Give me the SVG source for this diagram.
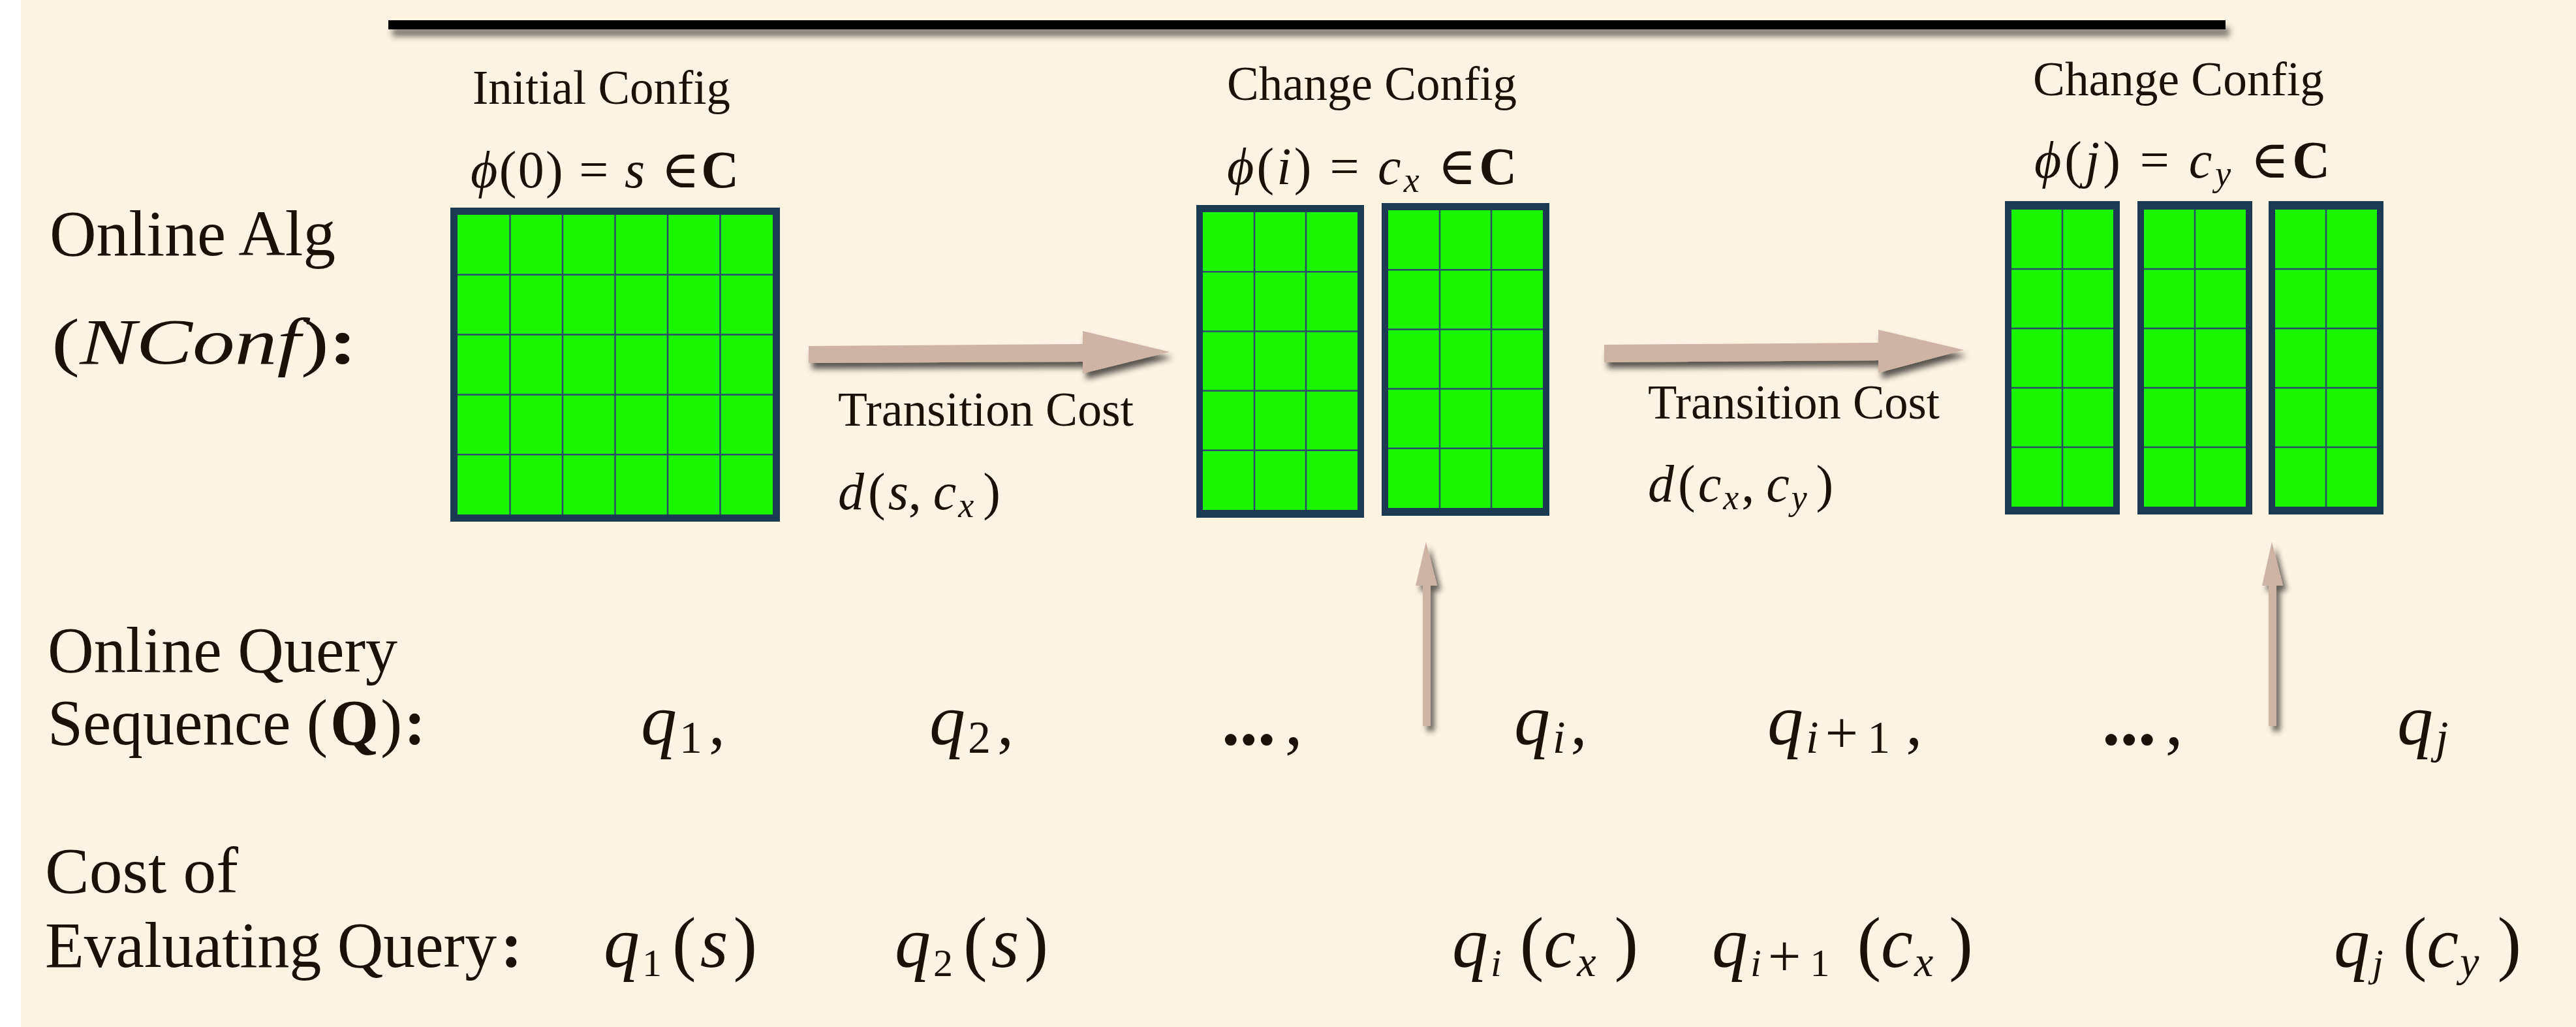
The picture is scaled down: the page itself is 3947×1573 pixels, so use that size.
<svg xmlns="http://www.w3.org/2000/svg" width="3947" height="1573" viewBox="0 0 3947 1573">
<defs>
<filter id="shH" x="-10%" y="-60%" width="120%" height="260%"><feDropShadow dx="5" dy="9" stdDeviation="5" flood-color="#000" flood-opacity="0.65"/></filter>
<filter id="shV" x="-150%" y="-10%" width="400%" height="130%"><feDropShadow dx="6" dy="8" stdDeviation="4" flood-color="#000" flood-opacity="0.6"/></filter>
<filter id="shBar" x="-5%" y="-100%" width="110%" height="400%"><feDropShadow dx="6" dy="11" stdDeviation="5" flood-color="#000" flood-opacity="0.5"/></filter>
</defs>
<style>
text { font-family: "Liberation Serif", "DejaVu Serif", serif; fill: #1a1208; }
.lab { font-size: 100px; }
.hd { font-size: 74px; }
.m { font-size: 80px; }
.q { font-size: 110px; }
.i { font-style: italic; }
.b { font-weight: bold; }
.frame { fill: #1c3a52; }
.cell { fill: #1af500; }
.grid { stroke: #2b4d6b; stroke-width: 2.5; fill: none; }
.arrow { fill: #cdb4a4; }
</style>
<rect x="0" y="0" width="3947" height="1573" fill="#ffffff"/>
<rect x="32" y="0" width="3915" height="1573" fill="#fdf3e3"/>
<rect x="595" y="31" width="2815" height="14" fill="#000" filter="url(#shBar)"/>

<g id="row-labels">
<text class="lab" x="76" y="391" textLength="438" lengthAdjust="spacingAndGlyphs">Online Alg</text>
<text class="lab" x="79" y="557" textLength="468" lengthAdjust="spacingAndGlyphs">(<tspan class="i">NConf</tspan>)<tspan class="b">:</tspan></text>
<text class="lab" x="73" y="1029" textLength="536" lengthAdjust="spacingAndGlyphs">Online Query</text>
<text class="lab" x="73" y="1140" textLength="429" lengthAdjust="spacingAndGlyphs">Sequence (</text>
<text class="lab b" x="506" y="1140" textLength="74" lengthAdjust="spacingAndGlyphs">Q</text>
<text class="lab" x="583" y="1140">)</text>
<text class="lab b" x="619" y="1140">:</text>
<text class="lab" x="69" y="1367" textLength="296" lengthAdjust="spacingAndGlyphs">Cost of</text>
<text class="lab" x="69" y="1481" font-size="96" textLength="692" lengthAdjust="spacingAndGlyphs">Evaluating Query</text>
<text class="lab b" x="767" y="1481">:</text>
</g>

<g id="node-initial-config">
<text class="hd" x="724" y="159" textLength="395" lengthAdjust="spacingAndGlyphs">Initial Config</text>
<text class="m" x="721" y="287" textLength="411" lengthAdjust="spacing"><tspan class="i">ϕ</tspan>(0) = <tspan class="i">s</tspan> ∈<tspan class="b">C</tspan></text>
<rect class="frame" x="690" y="318" width="505" height="481"/>
<rect class="cell" x="701" y="329" width="483" height="459"/>
<path class="grid" d="M781.5 329V788M862 329V788M942.5 329V788M1023 329V788M1103.5 329V788M701 420.8H1184M701 512.6H1184M701 604.4H1184M701 696.2H1184"/>
</g>

<g id="node-config-i">
<text class="hd" x="1880" y="153" textLength="444" lengthAdjust="spacingAndGlyphs">Change Config</text>
<text class="m" x="1880" y="282" textLength="444" lengthAdjust="spacing"><tspan class="i">ϕ</tspan>(<tspan class="i">i</tspan>) = <tspan class="i">c</tspan><tspan class="i" font-size="54" dy="12">x</tspan><tspan dy="-12"> ∈</tspan><tspan class="b">C</tspan></text>
<rect class="frame" x="1833" y="314" width="257" height="479"/>
<rect class="cell" x="1843" y="325" width="237" height="456"/>
<path class="grid" d="M1922 325V781M2001 325V781M1843 416.2H2080M1843 507.4H2080M1843 598.6H2080M1843 689.8H2080"/>
<rect class="frame" x="2117" y="311" width="257" height="479"/>
<rect class="cell" x="2127" y="322" width="237" height="456"/>
<path class="grid" d="M2206 322V778M2285 322V778M2127 413.2H2364M2127 504.4H2364M2127 595.6H2364M2127 686.8H2364"/>
</g>

<g id="node-config-j">
<text class="hd" x="3115" y="146" textLength="446" lengthAdjust="spacingAndGlyphs">Change Config</text>
<text class="m" x="3117" y="272" textLength="453" lengthAdjust="spacing"><tspan class="i">ϕ</tspan>(<tspan class="i">j</tspan>) = <tspan class="i">c</tspan><tspan class="i" font-size="54" dy="12">y</tspan><tspan dy="-12"> ∈</tspan><tspan class="b">C</tspan></text>
<rect class="frame" x="3072" y="308" width="176" height="480"/>
<rect class="cell" x="3082" y="321" width="156" height="455"/>
<rect class="frame" x="3275" y="308" width="176" height="480"/>
<rect class="cell" x="3285" y="321" width="156" height="455"/>
<rect class="frame" x="3476" y="308" width="176" height="480"/>
<rect class="cell" x="3486" y="321" width="156" height="455"/>
<path class="grid" d="M3160 321V776M3363 321V776M3564 321V776M3082 412H3238M3082 503H3238M3082 594H3238M3082 685H3238M3285 412H3441M3285 503H3441M3285 594H3441M3285 685H3441M3486 412H3642M3486 503H3642M3486 594H3642M3486 685H3642"/>
</g>

<g id="connectors">
<polygon class="arrow" filter="url(#shH)" points="1239,530 1659,527 1659,507 1792,539 1659,572 1659,554 1239,556"/>
<polygon class="arrow" filter="url(#shH)" points="2458,528 2878,525 2878,505 3009,536 2878,571 2878,552 2458,555"/>
<polygon class="arrow" filter="url(#shV)" points="2185,830 2202,897 2192,897 2192,1112 2180,1112 2180,897 2169,897"/>
<polygon class="arrow" filter="url(#shV)" points="3481,830 3498,897 3488,897 3488,1112 3476,1112 3476,897 3466,897"/>
</g>

<g id="transition-labels">
<text class="hd" x="1284" y="652" textLength="453" lengthAdjust="spacingAndGlyphs">Transition Cost</text>
<text class="m" x="1284" y="780"><tspan class="i">d</tspan><tspan dx="6">(</tspan><tspan class="i" dx="4">s</tspan>,<tspan class="i" dx="18">c</tspan><tspan class="i" font-size="54" dy="12" dx="3">x</tspan><tspan dy="-12" dx="14">)</tspan></text>
<text class="hd" x="2525" y="641" textLength="447" lengthAdjust="spacingAndGlyphs">Transition Cost</text>
<text class="m" x="2525" y="768"><tspan class="i">d</tspan><tspan dx="6">(</tspan><tspan class="i" dx="4">c</tspan><tspan class="i" font-size="54" dy="12" dx="3">x</tspan><tspan dy="-12" dx="4">,</tspan><tspan class="i" dx="18">c</tspan><tspan class="i" font-size="54" dy="12" dx="3">y</tspan><tspan dy="-12" dx="14">)</tspan></text>
</g>

<g id="query-sequence">
<text class="q" x="982" y="1140"><tspan class="i">q</tspan><tspan font-size="70" dy="13" dx="4">1</tspan><tspan dy="-13" dx="10" font-size="100">,</tspan></text>
<text class="q" x="1424" y="1140"><tspan class="i">q</tspan><tspan font-size="70" dy="13" dx="4">2</tspan><tspan dy="-13" dx="10" font-size="100">,</tspan></text>
<text class="q" x="1872" y="1140" font-size="100"><tspan class="b">...</tspan><tspan dx="14">,</tspan></text>
<text class="q" x="2320" y="1140"><tspan class="i">q</tspan><tspan class="i" font-size="70" dy="13" dx="4">i</tspan><tspan dy="-13" dx="8" font-size="100">,</tspan></text>
<text class="q" x="2708" y="1140"><tspan class="i">q</tspan><tspan class="i" font-size="70" dy="13" dx="4">i</tspan><tspan font-size="90" dx="10">+</tspan><tspan font-size="70" dx="14">1</tspan><tspan dy="-13" dx="24" font-size="100">,</tspan></text>
<text class="q" x="3221" y="1140" font-size="100"><tspan class="b">...</tspan><tspan dx="14">,</tspan></text>
<text class="q" x="3673" y="1140"><tspan class="i">q</tspan><tspan class="i" font-size="70" dy="13" dx="4">j</tspan></text>
</g>

<g id="query-costs">
<text class="q" x="925" y="1481"><tspan class="i">q</tspan><tspan font-size="60" dy="14" dx="4">1</tspan><tspan dy="-14" dx="16">(</tspan><tspan class="i" dx="6">s</tspan><tspan dx="8">)</tspan></text>
<text class="q" x="1371" y="1481"><tspan class="i">q</tspan><tspan font-size="60" dy="14" dx="4">2</tspan><tspan dy="-14" dx="16">(</tspan><tspan class="i" dx="6">s</tspan><tspan dx="8">)</tspan></text>
<text class="q" x="2225" y="1481"><tspan class="i">q</tspan><tspan class="i" font-size="60" dy="14" dx="4">i</tspan><tspan dy="-14" dx="28">(</tspan><tspan class="i">c</tspan><tspan class="i" font-size="66" dy="14" dx="2">x</tspan><tspan dy="-14" dx="28">)</tspan></text>
<text class="q" x="2623" y="1481"><tspan class="i">q</tspan><tspan class="i" font-size="60" dy="14" dx="4">i</tspan><tspan font-size="90" dx="10">+</tspan><tspan font-size="60" dx="14">1</tspan><tspan dy="-14" dx="42">(</tspan><tspan class="i">c</tspan><tspan class="i" font-size="66" dy="14" dx="2">x</tspan><tspan dy="-14" dx="24">)</tspan></text>
<text class="q" x="3576" y="1481"><tspan class="i">q</tspan><tspan class="i" font-size="60" dy="14" dx="4">j</tspan><tspan dy="-14" dx="30">(</tspan><tspan class="i">c</tspan><tspan class="i" font-size="66" dy="14" dx="2">y</tspan><tspan dy="-14" dx="28">)</tspan></text>
</g>
</svg>
